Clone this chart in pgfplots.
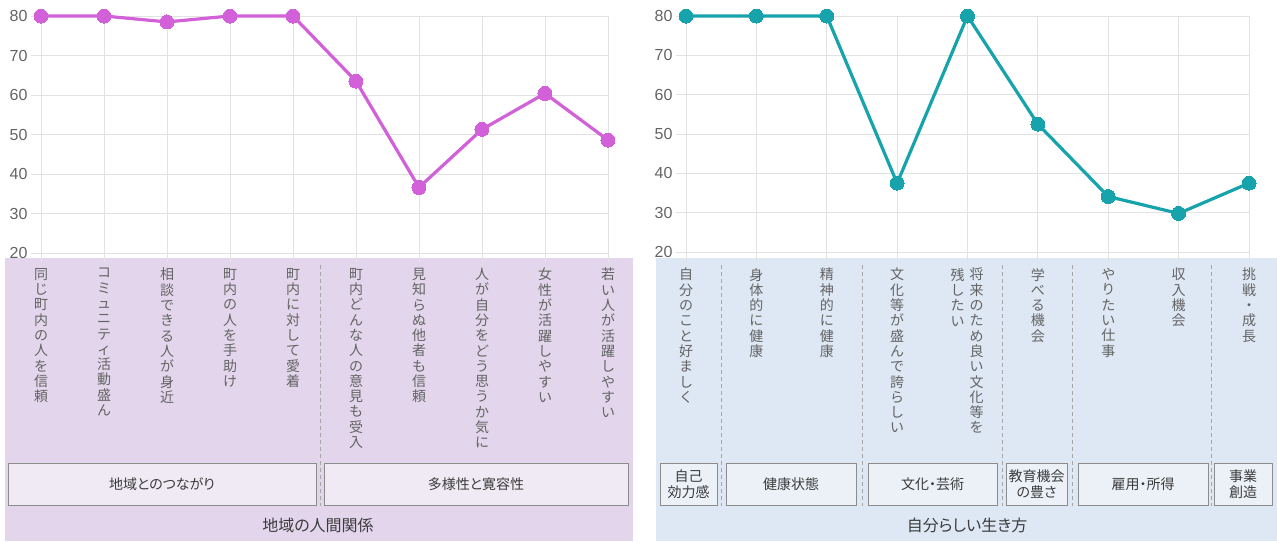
\documentclass[border=0pt]{standalone}
\usepackage{pgfplots}
\pgfplotsset{compat=1.18}
\usepackage{pgfplotstable}
\usepackage{fontspec}
\setmainfont{Liberation Sans}
\newfontfamily\jp{Noto Sans CJK JP}
\newfontfamily\jpp[RawFeature=+palt]{Noto Sans CJK JP}

\definecolor{lpurple}{RGB}{210,96,216}
\definecolor{lteal}{RGB}{23,163,172}
\definecolor{bgL}{RGB}{227,214,236}
\definecolor{bgR}{RGB}{221,232,244}
\definecolor{boxL}{RGB}{239,234,243}
\definecolor{boxR}{RGB}{236,241,248}
\definecolor{lbl}{RGB}{100,100,100}
\definecolor{grd}{RGB}{226,226,226}
\definecolor{txt}{RGB}{60,60,60}

\ExplSyntaxOn
\NewDocumentCommand{\vt}{m}{
  \seq_clear:N \l_tmpa_seq
  \tl_map_inline:nn {#1}{ \seq_put_right:Nn \l_tmpa_seq {##1} }
  \seq_use:Nn \l_tmpa_seq {\\}
}
\ExplSyntaxOff

\pgfplotstableread{
x y
0 80
1 80
2 78.5
3 80
4 80
5 63.5
6 36.6
7 51.3
8 60.4
9 48.6
}\dataL

\pgfplotstableread{
x y
0 80
1 80
2 80
3 37.5
4 80
5 52.5
6 34.1
7 29.8
8 37.5
}\dataR

\pgfplotsset{
  mystyle/.style={
    scale only axis,
    ymin=20, ymax=80, ytick={20,30,...,80},
    grid=major, grid style={grd, line width=0.8pt},
    axis line style={grd, line width=0.8pt},
    tick style={grd, line width=0.8pt},
    tick align=outside, major tick length=10pt,
    xtick pos=bottom, ytick pos=left,
    xticklabel={\mbox{}},
    yticklabel style={font=\fontsize{16}{16}\selectfont, text=lbl},
    /pgf/number format/assume math mode=true,
    clip=false,
  }
}

\begin{document}
\begin{tikzpicture}
\begin{scope}[x=1pt,y=-1pt]
\fill[bgL] (5,258) rectangle (633,541);
\fill[bgR] (656,258) rectangle (1277,541);
\end{scope}

\begin{axis}[mystyle, at={(41pt,-253pt)}, anchor=south west,
  width=567pt, height=237pt, xmin=0, xmax=9, xtick={0,...,9}]
\addplot[lpurple, line width=3.2pt, mark=*, mark size=7pt,
  mark options={fill=lpurple, draw=lpurple, line width=0pt}] table[x=x,y=y] {\dataL};
\end{axis}

\begin{axis}[mystyle, at={(686pt,-252pt)}, anchor=south west,
  width=563pt, height=236pt, xmin=0, xmax=8, xtick={0,...,8}]
\addplot[lteal, line width=3.2pt, mark=*, mark size=7pt,
  mark options={fill=lteal, draw=lteal, line width=0pt}] table[x=x,y=y] {\dataR};
\end{axis}

\begin{scope}[x=1pt,y=-1pt]
\tikzset{vl/.style={anchor=north, align=center, inner sep=0pt, text=lbl,
  font=\jp\fontsize{14}{15.3}\selectfont}}
% left labels
\node[vl] at (41,268) {\vt{同じ町内の人を信頼}};
\node[vl] at (104,268) {\vt{コミュニティ活動盛ん}};
\node[vl] at (167,268) {\vt{相談できる人が身近}};
\node[vl] at (230,268) {\vt{町内の人を手助け}};
\node[vl] at (293,268) {\vt{町内に対して愛着}};
\node[vl] at (356,268) {\vt{町内どんな人の意見も受入}};
\node[vl] at (419,268) {\vt{見知らぬ他者も信頼}};
\node[vl] at (482,268) {\vt{人が自分をどう思うか気に}};
\node[vl] at (545,268) {\vt{女性が活躍しやすい}};
\node[vl] at (608,268) {\vt{若い人が活躍しやすい}};
% right labels
\node[vl] at (686,268) {\vt{自分のこと好ましく}};
\node[vl] at (756.4,268) {\vt{身体的に健康}};
\node[vl] at (826.8,268) {\vt{精神的に健康}};
\node[vl] at (897.1,268) {\vt{文化等が盛んで誇らしい}};
\node[vl] at (976.5,268) {\vt{将来のため良い文化等を}};
\node[vl] at (957.5,268) {\vt{残したい}};
\node[vl] at (1037.9,268) {\vt{学べる機会}};
\node[vl] at (1108.3,268) {\vt{やりたい仕事}};
\node[vl] at (1178.7,268) {\vt{収入機会}};
\node[vl] at (1249,268) {\vt{挑戦・成長}};

% dashed separators
\tikzset{sep/.style={draw=gray!70, line width=0.8pt, dash pattern=on 4pt off 3pt}}
\draw[sep] (320,265) -- (320,506);
\draw[sep] (721,265) -- (721,506);
\draw[sep] (862.5,265) -- (862.5,506);
\draw[sep] (1002,265) -- (1002,506);
\draw[sep] (1072.5,265) -- (1072.5,506);
\draw[sep] (1211,265) -- (1211,506);

% group boxes
\tikzset{bx/.style={draw=gray!90, line width=1pt}}
\tikzset{bt/.style={align=center, inner sep=0pt, text=txt,
  font=\jpp\fontsize{14}{16}\selectfont}}
\draw[bx, fill=boxL] (8,463) rectangle (316,505);
\draw[bx, fill=boxL] (324,463) rectangle (628,505);
\node[bt] at (162,484) {地域とのつながり};
\node[bt] at (476,484) {多様性と寛容性};

\draw[bx, fill=boxR] (660,463) rectangle (717,505);
\draw[bx, fill=boxR] (726,463) rectangle (856,505);
\draw[bx, fill=boxR] (868,463) rectangle (997,505);
\draw[bx, fill=boxR] (1006,463) rectangle (1067,505);
\draw[bx, fill=boxR] (1078,463) rectangle (1208,505);
\draw[bx, fill=boxR] (1214,463) rectangle (1272,505);
\node[bt] at (688.5,484) {自己\\効力感};
\node[bt] at (791,484) {健康状態};
\node[bt] at (932.5,484) {文化・芸術};
\node[bt] at (1036.5,484) {教育機会\\の豊さ};
\node[bt] at (1143,484) {雇用・所得};
\node[bt] at (1243,484) {事業\\創造};

% titles
\node[text=txt, font=\jpp\fontsize{16}{16}\selectfont] at (318,525) {地域の人間関係};
\node[text=txt, font=\jpp\fontsize{16}{16}\selectfont] at (967,525) {自分らしい生き方};
\end{scope}

\pgfresetboundingbox
\path (0pt,0pt) rectangle (1277pt,-541pt);
\end{tikzpicture}
\end{document}
